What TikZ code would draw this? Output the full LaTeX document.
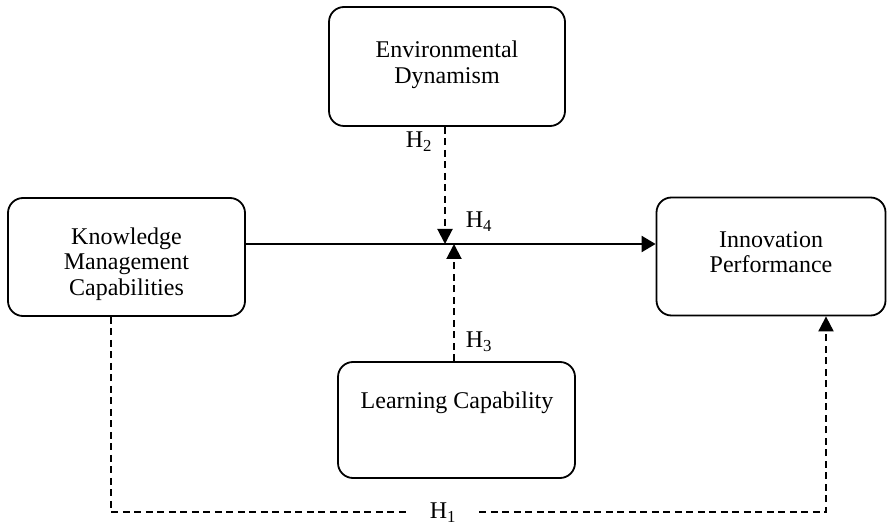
\documentclass[tikz,border=0pt]{standalone}
\usepackage{fontspec}
\setmainfont{Liberation Serif}
\usetikzlibrary{arrows.meta}
\tikzset{
  box/.style={draw, line width=1.8pt, rounded corners=15pt, inner sep=0pt},
  txt/.style={align=center, font=\fontsize{24}{25.5}\selectfont, inner sep=0pt},
  hlab/.style={font=\fontsize{24}{25.5}\selectfont, inner sep=1pt},
  solidline/.style={line width=2.2pt, -{Triangle[length=14pt,width=16pt]}},
  dashline/.style={line width=2pt, dash pattern=on 7pt off 4.5pt, -{Triangle[length=15pt,width=15pt]}}
}

\begin{document}
\begin{tikzpicture}[x=1pt, y=-1pt]
  \useasboundingbox (0, 0) rectangle (888, 526);

  \node[box, minimum width=236pt, minimum height=119pt] (ed) at (447, 66.5) {};
  \node[box, minimum width=237pt, minimum height=118pt] (kmc) at (126.5, 257) {};
  \node[box, minimum width=229pt, minimum height=118pt] (ip) at (771, 256.5) {};
  \node[box, minimum width=237pt, minimum height=116pt] (lc) at (456.5, 420) {};

  \node[txt] (edtext) at (447, 65) {Environmental\\Dynamism};
  \node[txt] (kmctext) at (126.5, 264) {Knowledge\\Management\\Capabilities};
  \node[txt] (iptext) at (771, 252) {Innovation\\Performance};
  \node[txt] (lctext) at (457, 403) {Learning Capability};

  \coordinate (j2) at (445, 244);
  \coordinate (j3) at (454, 244);
  \coordinate (bl) at (111, 512);
  \coordinate (br) at (826, 512);

  % main path and moderators
  \draw[solidline] (kmc.east |- j2) -- (j2 -| ip.west);
  \draw[dashline] (ed.south -| j2) -- (j2);
  \draw[dashline] (lc.north -| j3) -- (j3);

  % direct effect
  \draw[dashline] (kmc.south -| bl) -- (bl) -- (br) -- (ip.south -| br);
  \node[hlab, fill=white, inner xsep=22pt] (h1) at (443, 513) {H\textsubscript{1}};

  \node[hlab] (h2) at (419, 142) {H\textsubscript{2}};
  \node[hlab] (h3) at (479, 342) {H\textsubscript{3}};
  \node[hlab] (h4) at (479, 222) {H\textsubscript{4}};
\end{tikzpicture}
\end{document}
